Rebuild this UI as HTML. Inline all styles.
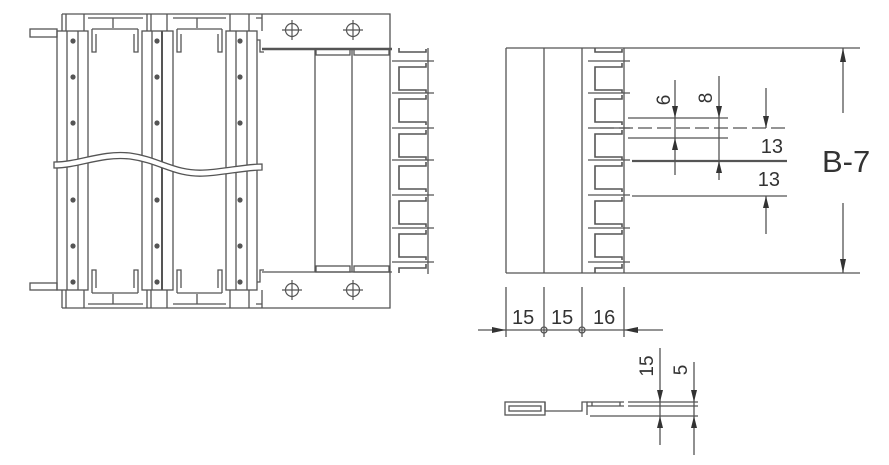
<!DOCTYPE html>
<html><head><meta charset="utf-8"><style>
html,body{margin:0;padding:0;background:#fff;}
svg{display:block;}
text{font-family:"Liberation Sans","DejaVu Sans",sans-serif;fill:#333;}
</style></head><body>
<svg width="889" height="465" viewBox="0 0 889 465" xmlns="http://www.w3.org/2000/svg">
<defs>
<g id="tooth" fill="none" stroke="#555" stroke-width="1.6">
<path d="M-2,2 V6 H-29 V29 H-2 V32"/>
</g>
<g id="tick"><line x1="-36" y1="0" x2="6" y2="0" stroke="#555" stroke-width="1.3"/></g>
<g id="comb">
<path d="M-29,0 V4 H-2 V1" fill="none" stroke="#555" stroke-width="1.6"/>
<use href="#tick" y="13"/><use href="#tick" y="45"/><use href="#tick" y="80"/><use href="#tick" y="112"/><use href="#tick" y="147"/><use href="#tick" y="180"/><use href="#tick" y="214"/>
<use href="#tooth" y="13"/><use href="#tooth" y="45"/><use href="#tooth" y="80"/><use href="#tooth" y="112"/><use href="#tooth" y="147"/><use href="#tooth" y="180"/>
<path d="M-2,216 V220 H-29 V225" fill="none" stroke="#555" stroke-width="1.6"/>
</g>
<g id="circ" fill="none" stroke="#555" stroke-width="1.2">
<circle r="6.5"/><line x1="-10" y1="0" x2="10" y2="0"/><line x1="0" y1="-10" x2="0" y2="10"/>
</g>
<g id="dot"><circle r="2.6" fill="#555"/></g>
</defs>

<!-- LEFT DRAWING -->
<g fill="none" stroke="#555" stroke-width="1.3">
<path d="M62,14 H390 V308 H62"/>
<line x1="62" y1="14" x2="62" y2="31"/>
<line x1="62" y1="290" x2="62" y2="308"/>
<rect x="30" y="29" width="27" height="8"/>
<rect x="30" y="283" width="27" height="7"/>
<path d="M88,18 H143 M173,18 H226 M256,18 H262"/>
<path d="M88,304 H143 M173,304 H226 M256,304 H262"/>
<path d="M113,18 V28 M197,18 V28 M113,294 V304 M197,294 V304"/>
<path d="M92,29 H138 M177,29 H222 M92,293 H138 M177,293 H222"/>
<path d="M92,29 V52 H96 V34 M138,29 V52 H134 V34 M177,29 V52 H181 V34 M222,29 V52 H218 V34"/>
<path d="M92,293 V270 H96 V288 M138,293 V270 H134 V288 M177,293 V270 H181 V288 M222,293 V270 H218 V288"/>
<path d="M66,14 V31 M84,14 V31 M147,14 V31 M151,14 V31 M167,14 V31 M230,14 V31 M249,14 V31 M262,14 V31"/>
<path d="M66,290 V308 M84,290 V308 M147,290 V308 M151,290 V308 M167,290 V308 M230,290 V308 M249,290 V308 M262,290 V308"/>
<rect x="57" y="31" width="31" height="259"/>
<line x1="67" y1="31" x2="67" y2="290"/><line x1="78" y1="31" x2="78" y2="290"/>
<rect x="142" y="31" width="31" height="259"/>
<line x1="152" y1="31" x2="152" y2="290"/><line x1="162" y1="31" x2="162" y2="290" stroke-width="2"/>
<rect x="226" y="31" width="31" height="259"/>
<line x1="236" y1="31" x2="236" y2="290"/><line x1="247" y1="31" x2="247" y2="290"/>
<path d="M257,40 H260 V52 H264 M257,282 H260 V270 H264"/>
<line x1="262" y1="49" x2="392" y2="49" stroke-width="2.5"/>
<line x1="262" y1="272" x2="392" y2="272"/>
<line x1="315" y1="49" x2="315" y2="272"/>
<line x1="352" y1="49" x2="352" y2="272"/>
<rect x="316" y="49" width="34" height="6"/>
<rect x="354" y="49" width="35" height="6"/>
<rect x="316" y="266" width="34" height="6"/>
<rect x="354" y="266" width="35" height="6"/>
<line x1="428" y1="48" x2="428" y2="274"/>
</g>
<path d="M54,162 C80,162 100,150 130,153 C160,157 175,172 205,170 C225,169 245,164 262,164 L262,170 C245,170 225,175 205,176 C175,178 160,163 130,159 C100,156 80,168 54,168 Z" fill="#fff" stroke="#555" stroke-width="1.3"/>
<g>
<use href="#dot" x="73" y="41"/><use href="#dot" x="73" y="77"/><use href="#dot" x="73" y="123"/><use href="#dot" x="73" y="200"/><use href="#dot" x="73" y="246"/><use href="#dot" x="73" y="282"/>
<use href="#dot" x="157" y="41"/><use href="#dot" x="157" y="77"/><use href="#dot" x="157" y="123"/><use href="#dot" x="157" y="200"/><use href="#dot" x="157" y="246"/><use href="#dot" x="157" y="282"/>
<use href="#dot" x="240" y="41"/><use href="#dot" x="240" y="77"/><use href="#dot" x="240" y="123"/><use href="#dot" x="240" y="200"/><use href="#dot" x="240" y="246"/><use href="#dot" x="240" y="282"/>
</g>
<use href="#circ" x="292" y="30"/><use href="#circ" x="353" y="30"/>
<use href="#circ" x="292" y="290"/><use href="#circ" x="353" y="290"/>
<use href="#comb" x="428" y="48"/>

<!-- RIGHT DRAWING -->
<g fill="none" stroke="#555" stroke-width="1.3">
<line x1="506" y1="48" x2="860" y2="48"/>
<line x1="506" y1="273" x2="860" y2="273"/>
<line x1="506" y1="48" x2="506" y2="273"/>
<line x1="544" y1="48" x2="544" y2="273"/>
<line x1="582" y1="48" x2="582" y2="273"/>
<line x1="624" y1="48" x2="624" y2="273"/>
<line x1="628" y1="118" x2="728" y2="118"/>
<line x1="600" y1="128" x2="787" y2="128" stroke-dasharray="14,5"/>
<line x1="628" y1="138" x2="728" y2="138"/>
<line x1="632" y1="161" x2="787" y2="161" stroke-width="2.2"/>
<line x1="632" y1="196" x2="787" y2="196"/>
<line x1="675" y1="80" x2="675" y2="175"/>
<line x1="719" y1="76" x2="719" y2="180"/>
<line x1="766" y1="88" x2="766" y2="128"/>
<line x1="766" y1="196" x2="766" y2="234"/>
<line x1="843" y1="48" x2="843" y2="113"/>
<line x1="843" y1="203" x2="843" y2="273"/>
<line x1="506" y1="287" x2="506" y2="337"/>
<line x1="544" y1="287" x2="544" y2="337"/>
<line x1="582" y1="287" x2="582" y2="337"/>
<line x1="624" y1="287" x2="624" y2="337"/>
<line x1="478" y1="330" x2="663" y2="330"/>
<circle cx="544" cy="330" r="3"/><circle cx="582" cy="330" r="3"/>
</g>
<use href="#comb" x="624" y="48"/>
<g fill="#333">
<path d="M675,118 l-3,-12 h6z"/><path d="M675,138 l-3,12 h6z"/>
<path d="M719,118 l-3,-12 h6z"/><path d="M719,161 l-3,12 h6z"/>
<path d="M766,128 l-3,-12 h6z"/><path d="M766,196 l-3,12 h6z"/>
<path d="M843,48 l-3,14 h6z"/><path d="M843,273 l-3,-14 h6z"/>
<path d="M506,330 l-14,-3 v6z"/><path d="M624,330 l14,-3 v6z"/>
</g>
<text x="665" y="100" font-size="19" transform="rotate(-90 665 100)" text-anchor="middle" dominant-baseline="middle">6</text>
<text x="707" y="98" font-size="19" transform="rotate(-90 707 98)" text-anchor="middle" dominant-baseline="middle">8</text>
<text x="783" y="153" font-size="20" text-anchor="end">13</text>
<text x="780" y="186" font-size="20" text-anchor="end">13</text>
<text x="822" y="172" font-size="31">B-7</text>
<text x="512" y="324" font-size="20">15</text>
<text x="551" y="324" font-size="20">15</text>
<text x="593" y="324" font-size="20">16</text>

<g fill="none" stroke="#555" stroke-width="1.3">
<rect x="505" y="402" width="40" height="13"/>
<rect x="509" y="406" width="32" height="5"/>
<path d="M545,402 V411 H582 V402 H587 V415"/>
<path d="M587,402 H624 M592,402 V406 M620,402 V406 M587,406 H624"/>
<line x1="628" y1="402" x2="698" y2="402"/>
<line x1="628" y1="406" x2="698" y2="406"/>
<line x1="590" y1="416" x2="698" y2="416"/>
<line x1="660" y1="348" x2="660" y2="445"/>
<line x1="694" y1="362" x2="694" y2="455"/>
</g>
<g fill="#333">
<path d="M660,402 l-3,-12 h6z"/><path d="M660,416 l-3,12 h6z"/>
<path d="M694,402 l-3,-12 h6z"/><path d="M694,416 l-3,12 h6z"/>
</g>
<text x="648" y="366" font-size="19" transform="rotate(-90 648 366)" text-anchor="middle" dominant-baseline="middle">15</text>
<text x="682" y="370" font-size="19" transform="rotate(-90 682 370)" text-anchor="middle" dominant-baseline="middle">5</text>
</svg>
</body></html>
